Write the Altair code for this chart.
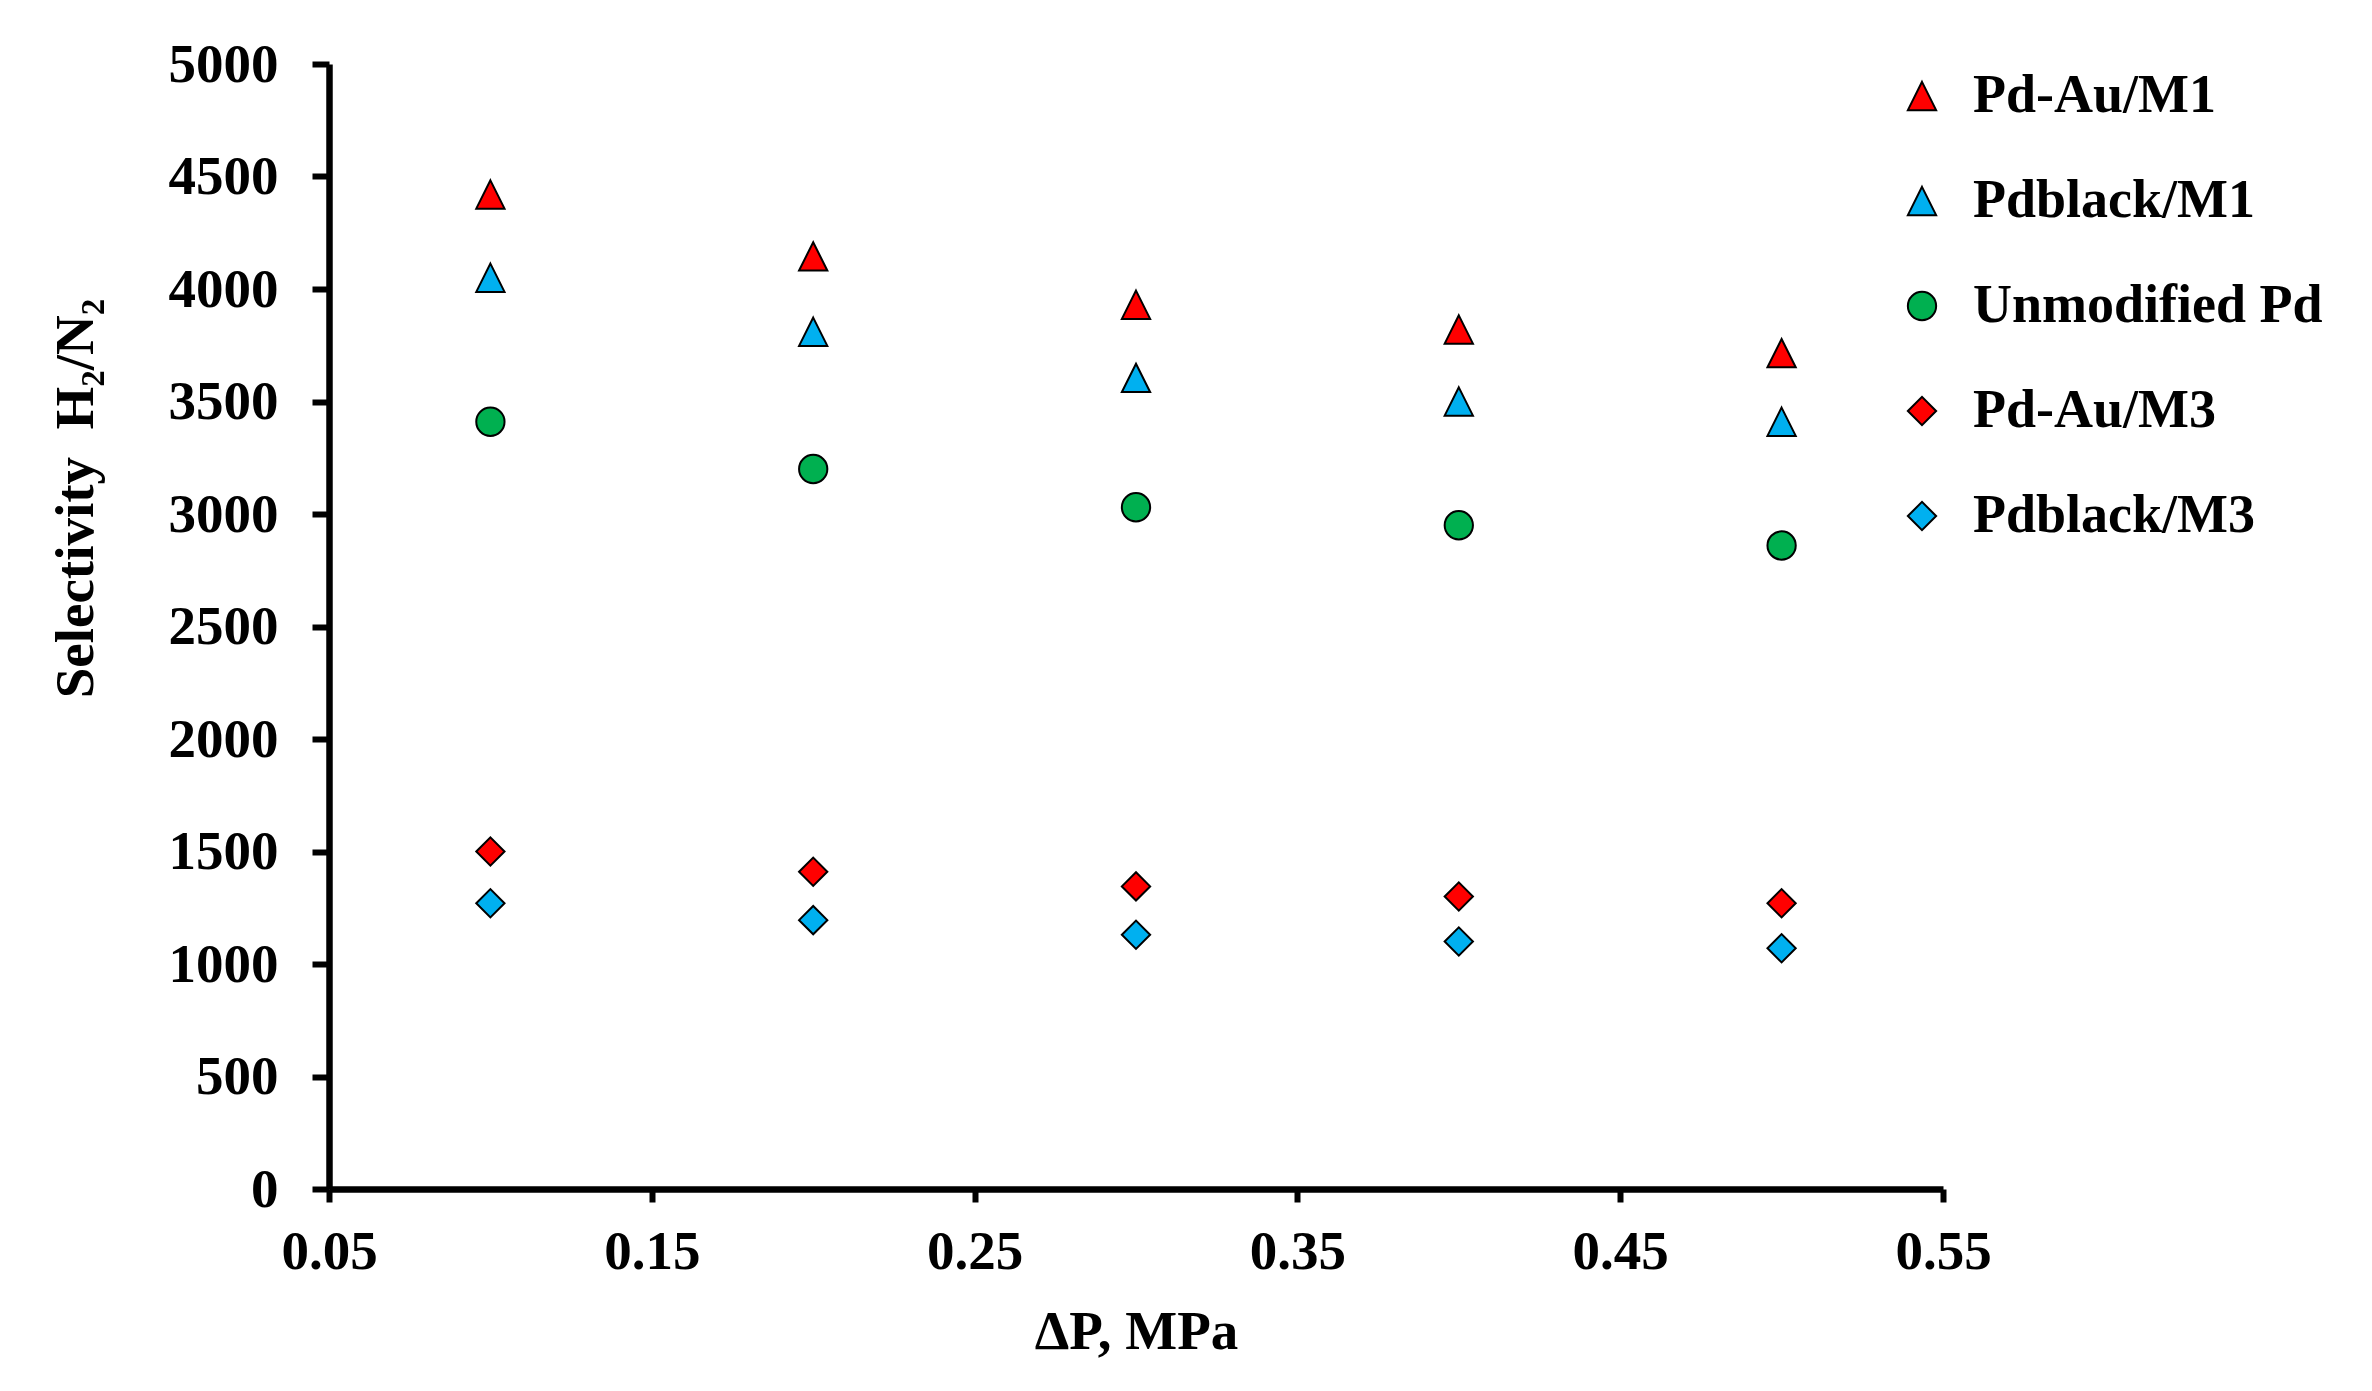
import altair as alt
import pandas as pd

# ---- data ----
dp = [0.1, 0.2, 0.3, 0.4, 0.5]
series_names = ["Pd-Au/M1", "Pdblack/M1", "Unmodified Pd", "Pd-Au/M3", "Pdblack/M3"]
pdau_m1 = [4420, 4145, 3930, 3820, 3715]
pdblack_m1 = [4050, 3810, 3605, 3500, 3410]
unmodified_pd = [3410, 3200, 3030, 2950, 2860]
pdau_m3 = [1500, 1410, 1345, 1300, 1270]
pdblack_m3 = [1270, 1195, 1130, 1100, 1070]
x_ticks = [0.05, 0.15, 0.25, 0.35, 0.45, 0.55]
y_ticks = [0, 500, 1000, 1500, 2000, 2500, 3000, 3500, 4000, 4500, 5000]

colors = ["#FF0000", "#00B0F0", "#00B050", "#FF0000", "#00B0F0"]
tri = "M0,-1L1,1L-1,1Z"
shapes = [tri, tri, "circle", "diamond", "diamond"]
sizes = [800, 800, 500, 841, 841]

values = [pdau_m1, pdblack_m1, unmodified_pd, pdau_m3, pdblack_m3]
rows = []
for name, vals in zip(series_names, values):
    for x, v in zip(dp, vals):
        rows.append({"dp": x, "sel": v, "series": name})
df = pd.DataFrame(rows)

FONT = "Liberation Serif"

chart = alt.Chart(df).mark_point(
    filled=True, opacity=1, stroke="black", strokeWidth=2
).encode(
    x=alt.X(
        "dp:Q",
        scale=alt.Scale(domain=[0.05, 0.55], nice=False, zero=False),
        axis=alt.Axis(
            values=x_ticks, format=".2f", title="ΔP, MPa",
            tickSize=13, labelPadding=66, labelFlush=False,
            labelBaseline="alphabetic",
            titleY=159, titleBaseline="alphabetic",
        ),
    ),
    y=alt.Y(
        "sel:Q",
        scale=alt.Scale(domain=[0, 5000], nice=False),
        axis=alt.Axis(
            values=y_ticks, format="d", title="Selectivity\u00a0 H₂/N₂",
            tickSize=17, labelPadding=34, labelFlush=False,
            titleAngle=270, titleX=-237, titleY=434,
            titleBaseline="alphabetic", titleAlign="center",
        ),
    ),
    color=alt.Color(
        "series:N",
        scale=alt.Scale(domain=series_names, range=colors),
        legend=alt.Legend(
            title=None, orient="none", legendX=1566, legendY=5,
            padding=0, rowPadding=51, labelOffset=24,
            labelFont=FONT, labelFontSize=54, labelFontWeight="bold",
            labelColor="black", labelLimit=0,
            symbolStrokeColor="black", symbolStrokeWidth=2, symbolOpacity=1,
        ),
    ),
    shape=alt.Shape("series:N", scale=alt.Scale(domain=series_names, range=shapes)),
    size=alt.Size("series:N", scale=alt.Scale(domain=series_names, range=sizes)),
).properties(
    width=1614,
    height=1125,
    autosize=alt.AutoSizeParams(type="none"),
    padding={"left": 321, "top": 56, "right": 420, "bottom": 190},
    background="white",
).configure_view(
    stroke=None
).configure_axis(
    grid=False,
    domainColor="black", domainWidth=6.5,
    tickColor="black", tickWidth=6,
    labelFont=FONT, labelFontSize=55, labelFontWeight="bold", labelColor="black",
    titleFont=FONT, titleFontSize=55, titleFontWeight="bold", titleColor="black",
)

chart.save("out.html", embed_options={"renderer": "svg", "actions": False})
